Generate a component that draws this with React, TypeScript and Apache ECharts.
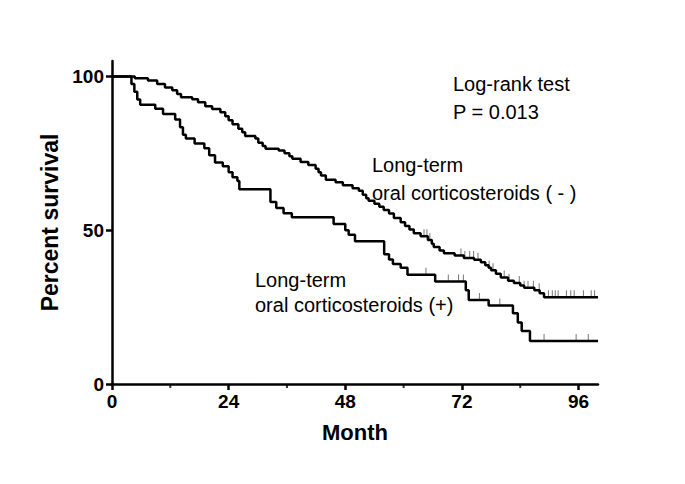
import React, { useEffect, useRef } from "react";
import * as echarts from "echarts";

// Kaplan-Meier steps: [month, percent survival after the event]
const minusCurve: [number, number][] = [
  [0, 100], [4.7, 99.4], [7.4, 98.7], [9.3, 97.5], [10.9, 96.4], [12.4, 95.5], [13.4, 94.3],
  [14.2, 93.2], [16.5, 92.6], [17.7, 91.6], [19.2, 90.3], [20.6, 89.4], [22.3, 88.3],
  [23.3, 87.0], [24.0, 85.7], [24.8, 84.4], [26.0, 83.0], [26.8, 81.8], [27.4, 80.6],
  [29.5, 79.8], [30.1, 78.4], [31.0, 77.4], [31.6, 76.5], [34.3, 75.9], [35.5, 75.0],
  [36.5, 74.0], [37.1, 73.2], [38.8, 72.2], [40.4, 71.2], [41.9, 70.0], [42.5, 68.8],
  [43.0, 67.8], [44.0, 66.4], [46.0, 65.6], [47.5, 64.6], [49.5, 63.6], [50.8, 62.8],
  [51.6, 61.5], [52.3, 60.4], [52.8, 59.6], [54.0, 58.6], [55.0, 57.6], [55.9, 56.6],
  [57.0, 55.4], [58.0, 54.0], [59.4, 52.6], [60.3, 51.4], [61.2, 50.2], [62.1, 49.0],
  [63.5, 48.0], [65.0, 46.8], [65.8, 45.6], [66.2, 44.5], [67.4, 43.4], [68.3, 42.5],
  [70.5, 41.8], [72.4, 41.0], [74.5, 40.4], [75.9, 39.6], [76.8, 38.6], [77.5, 37.8],
  [78.0, 37.0], [79.0, 35.8], [80.0, 34.6], [81.5, 33.6], [82.7, 32.8], [84.0, 32.0],
  [84.8, 31.3], [86.9, 30.5], [88.0, 29.5], [88.9, 28.2], [100, 28.2],
];

const plusCurve: [number, number][] = [
  [0, 100], [4.0, 97.5], [4.6, 95.0], [5.2, 92.5], [5.8, 90.8], [8.9, 89.5], [10.5, 87.8],
  [13.0, 86.0], [14.0, 83.5], [14.6, 81.0], [15.2, 79.8], [17.0, 78.2], [19.0, 76.6],
  [20.0, 74.4], [21.2, 72.0], [22.8, 70.8], [24.0, 68.8], [24.8, 67.2], [25.8, 66.0],
  [26.2, 63.3], [32.6, 59.2], [33.8, 57.2], [35.3, 55.5], [37.0, 54.2], [45.6, 52.0],
  [48.0, 50.0], [48.7, 48.5], [50.0, 46.4], [56.0, 42.2], [57.0, 40.5], [57.8, 39.0],
  [59.4, 37.8], [60.8, 35.5], [66.5, 33.3], [72.8, 30.5], [73.4, 27.3], [77.5, 25.5],
  [82.5, 23.0], [83.5, 20.0], [84.3, 17.2], [86.0, 14.0], [100, 14.0],
];

// censored observations (months)
const minusCensor: number[] = [
  64.2, 64.8, 65.4, 71.8, 72.6, 73.6, 74.4, 75.3, 77.6, 78.4, 80.7, 81.7, 83.8, 84.8,
  85.6, 86.7, 87.9, 89.8, 90.6, 91.2, 91.8, 93.5, 94.4, 95.1, 97.0, 98.6, 99.3,
];
const plusCensor: number[] = [64.6, 69.2, 71.3, 72.3, 75.6, 79.8, 88.9, 95.5, 98.0];

const xTicks = [0, 24, 48, 72, 96];
const xMinorTicks = [12, 36, 60, 84];
const yTicks = [0, 50, 100];

function survivalAt(curve: [number, number][], t: number): number {
  let v = curve[0][1];
  for (const [m, s] of curve) {
    if (m <= t) v = s;
    else break;
  }
  return v;
}

const FONT = "'Liberation Sans', Arial, sans-serif";

export default function App() {
  const ref = useRef<HTMLDivElement>(null);
  useEffect(() => {
    if (!ref.current) return;
    const chart = echarts.init(ref.current, null, { renderer: "svg" });
    const censorStyle = {
      type: "scatter" as const,
      symbol: "rect",
      symbolSize: [1, 7],
      symbolOffset: [0, -3.5],
      itemStyle: { color: "#555" },
      silent: true,
      z: 3,
    };
    chart.setOption({
      animation: false,
      backgroundColor: "#fff",
      grid: { left: 104, right: 95, top: 53, bottom: 108 },
      xAxis: {
        type: "value",
        min: 0,
        max: 100,
        name: "Month",
        nameLocation: "middle",
        nameGap: 37,
        nameTextStyle: { fontFamily: FONT, fontWeight: "bold", fontSize: 22, color: "#000" },
        axisLine: { lineStyle: { color: "#000", width: 2.5 } },
        axisTick: { customValues: xTicks, length: 6, lineStyle: { color: "#000", width: 2.5 } },
        axisLabel: {
          customValues: xTicks,
          margin: 8,
          fontFamily: FONT,
          fontWeight: "bold",
          fontSize: 19,
          color: "#000",
        },
        splitLine: { show: false },
      },
      yAxis: {
        type: "value",
        min: 0,
        max: 105,
        name: "Percent survival",
        nameLocation: "middle",
        nameGap: 34,
        nameTextStyle: { fontFamily: FONT, fontWeight: "bold", fontSize: 23, color: "#000" },
        axisLine: { lineStyle: { color: "#000", width: 2.5 } },
        axisTick: { customValues: yTicks, length: 6, lineStyle: { color: "#000", width: 2.5 } },
        axisLabel: {
          customValues: yTicks,
          margin: 8,
          fontFamily: FONT,
          fontWeight: "bold",
          fontSize: 19,
          color: "#000",
        },
        splitLine: { show: false },
      },
      series: [
        {
          type: "line",
          step: "end",
          data: minusCurve,
          showSymbol: false,
          lineStyle: { color: "#000", width: 2.5 },
          z: 4,
        },
        {
          type: "line",
          step: "end",
          data: plusCurve,
          showSymbol: false,
          lineStyle: { color: "#000", width: 2.5 },
          z: 4,
        },
        { ...censorStyle, data: minusCensor.map((t) => [t, survivalAt(minusCurve, t)]) },
        { ...censorStyle, data: plusCensor.map((t) => [t, survivalAt(plusCurve, t)]) },
        {
          type: "scatter",
          symbol: "rect",
          symbolSize: [2, 3],
          symbolOffset: [0, 2.5],
          itemStyle: { color: "#000" },
          data: xMinorTicks.map((t) => [t, 0]),
          clip: false,
          silent: true,
        },
      ],
      graphic: [
        { type: "text", left: 445, top: 66, style: { text: "Log-rank test", font: `20px ${FONT}`, fill: "#000" } },
        { type: "text", left: 445, top: 94, style: { text: "P = 0.013", font: `20px ${FONT}`, fill: "#000" } },
        { type: "text", left: 364, top: 147, style: { text: "Long-term", font: `20px ${FONT}`, fill: "#000" } },
        { type: "text", left: 364, top: 175, style: { text: "oral corticosteroids ( - )", font: `20px ${FONT}`, fill: "#000" } },
        { type: "text", left: 247, top: 262, style: { text: "Long-term", font: `20px ${FONT}`, fill: "#000" } },
        { type: "text", left: 247, top: 287, style: { text: "oral corticosteroids (+)", font: `20px ${FONT}`, fill: "#000" } },
      ],
    });
    return () => chart.dispose();
  }, []);
  return <div ref={ref} style={{ width: 685, height: 484 }} />;
}
